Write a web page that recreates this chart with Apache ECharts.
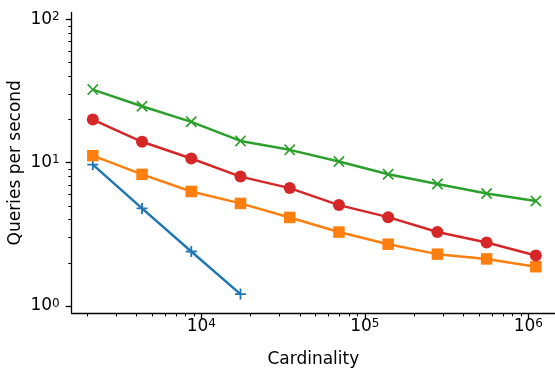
<!DOCTYPE html>
<html>
<head>
<meta charset="utf-8">
<script src="https://cdn.jsdelivr.net/npm/echarts@6/dist/echarts.min.js"></script>
<style>
html,body{margin:0;padding:0;background:#fff;}
#chart{width:555px;height:370px;}
</style>
</head>
<body>
<div id="chart"></div>
<script>
// ---- data ----
var cardinality = [2170, 4340, 8680, 17360, 34720, 69440, 138880, 277760, 555520, 1111040];
var seriesBlue   = [9.7, 4.8, 2.4, 1.21];
var seriesOrange = [11.2, 8.3, 6.3, 5.2, 4.15, 3.28, 2.7, 2.3, 2.13, 1.88];
var seriesGreen  = [32.4, 24.8, 19.3, 14.2, 12.3, 10.2, 8.3, 7.1, 6.1, 5.4];
var seriesRed    = [20.0, 14.0, 10.7, 8.0, 6.65, 5.06, 4.17, 3.28, 2.77, 2.25];

var xMajorTicks = [1e4, 1e5, 1e6];
var xMinorTicks = [2000, 3000, 4000, 5000, 6000, 7000, 8000, 9000,
                   20000, 30000, 40000, 50000, 60000, 70000, 80000, 90000,
                   200000, 300000, 400000, 500000, 600000, 700000, 800000, 900000];
var yMajorTicks = [1, 10, 100];
var yMinorTicks = [2, 3, 4, 5, 6, 7, 8, 9, 20, 30, 40, 50, 60, 70, 80, 90];

var xMin = 1612, xMax = 1455000;
var yMin = 0.893, yMax = 111.9;

function pairs(ys) {
  var out = [];
  for (var i = 0; i < ys.length; i++) out.push([cardinality[i], ys[i]]);
  return out;
}
function powLabel(v) {
  return '{b|10}{sup|' + Math.round(Math.log10(v)) + '}';
}
var FONT = 'DejaVu Sans';
var labelRich = {
  b: {fontSize: 17, fontFamily: FONT, color: '#000', lineHeight: 17, verticalAlign: 'bottom', padding: [5, 0, 0, 0]},
  sup: {fontSize: 12, fontFamily: FONT, color: '#000', lineHeight: 12, verticalAlign: 'top'}
};

var plusPath = 'path://M-1,-6L1,-6L1,-1L6,-1L6,1L1,1L1,6L-1,6L-1,1L-6,1L-6,-1L-1,-1Z';
var xPath = 'path://M-5.3,-6.7L0,-1.4L5.3,-6.7L6.7,-5.3L1.4,0L6.7,5.3L5.3,6.7L0,1.4L-5.3,6.7L-6.7,5.3L-1.4,0L-6.7,-5.3Z';

var axisLineStyle = {color: '#000', width: 1.3};

var chart = echarts.init(document.getElementById('chart'), null, {renderer: 'canvas'});
chart.setOption({
  animation: false,
  backgroundColor: '#fff',
  grid: {left: 71.7, right: 0, top: 12.5, bottom: 57, containLabel: false, outerBoundsMode: 'none'},
  xAxis: [
    {
      type: 'log', min: xMin, max: xMax, position: 'bottom',
      axisLine: {show: true, onZero: false, lineStyle: axisLineStyle},
      axisTick: {show: true, customValues: xMinorTicks, length: 3.4, lineStyle: {color: '#000', width: 1}},
      axisLabel: {show: false},
      splitLine: {show: false}
    },
    {
      type: 'log', min: xMin, max: xMax, position: 'bottom',
      axisLine: {show: false, onZero: false},
      axisTick: {show: true, customValues: xMajorTicks, length: 6, lineStyle: {color: '#000', width: 1.3}},
      axisLabel: {show: true, customValues: xMajorTicks, margin: 5, formatter: powLabel, rich: labelRich},
      splitLine: {show: false},
      name: 'Cardinality', nameLocation: 'middle', nameGap: 38, nameMoveOverlap: false,
      nameTextStyle: {fontFamily: FONT, fontSize: 17, color: '#000'}
    }
  ],
  yAxis: [
    {
      type: 'log', min: yMin, max: yMax, position: 'left',
      axisLine: {show: true, onZero: false, lineStyle: axisLineStyle},
      axisTick: {show: true, customValues: yMinorTicks, length: 3.4, lineStyle: {color: '#000', width: 1}},
      axisLabel: {show: false},
      splitLine: {show: false}
    },
    {
      type: 'log', min: yMin, max: yMax, position: 'left',
      axisLine: {show: false, onZero: false},
      axisTick: {show: true, customValues: yMajorTicks, length: 6, lineStyle: {color: '#000', width: 1.3}},
      axisLabel: {show: true, customValues: yMajorTicks, margin: 12, formatter: powLabel, rich: labelRich},
      splitLine: {show: false},
      name: 'Queries per second', nameLocation: 'middle', nameGap: 48, nameMoveOverlap: false,
      nameTextStyle: {fontFamily: FONT, fontSize: 17, color: '#000'}
    }
  ],
  series: [
    {
      type: 'line', data: pairs(seriesBlue), xAxisIndex: 0, yAxisIndex: 0,
      symbol: plusPath, symbolSize: 11, showAllSymbol: true,
      lineStyle: {color: '#1f77b4', width: 2.5}, itemStyle: {color: '#1f77b4'}, z: 2
    },
    {
      type: 'line', data: pairs(seriesOrange), xAxisIndex: 0, yAxisIndex: 0,
      symbol: 'rect', symbolSize: 11.5, showAllSymbol: true,
      lineStyle: {color: '#ff7f0e', width: 2.5}, itemStyle: {color: '#ff7f0e'}, z: 3
    },
    {
      type: 'line', data: pairs(seriesGreen), xAxisIndex: 0, yAxisIndex: 0,
      symbol: xPath, symbolSize: 11.5, showAllSymbol: true,
      lineStyle: {color: '#2ca02c', width: 2.5}, itemStyle: {color: '#2ca02c'}, z: 4
    },
    {
      type: 'line', data: pairs(seriesRed), xAxisIndex: 0, yAxisIndex: 0,
      symbol: 'circle', symbolSize: 12, showAllSymbol: true,
      lineStyle: {color: '#d62728', width: 2.5}, itemStyle: {color: '#d62728', borderWidth: 0}, z: 5
    }
  ]
});
</script>
</body>
</html>
